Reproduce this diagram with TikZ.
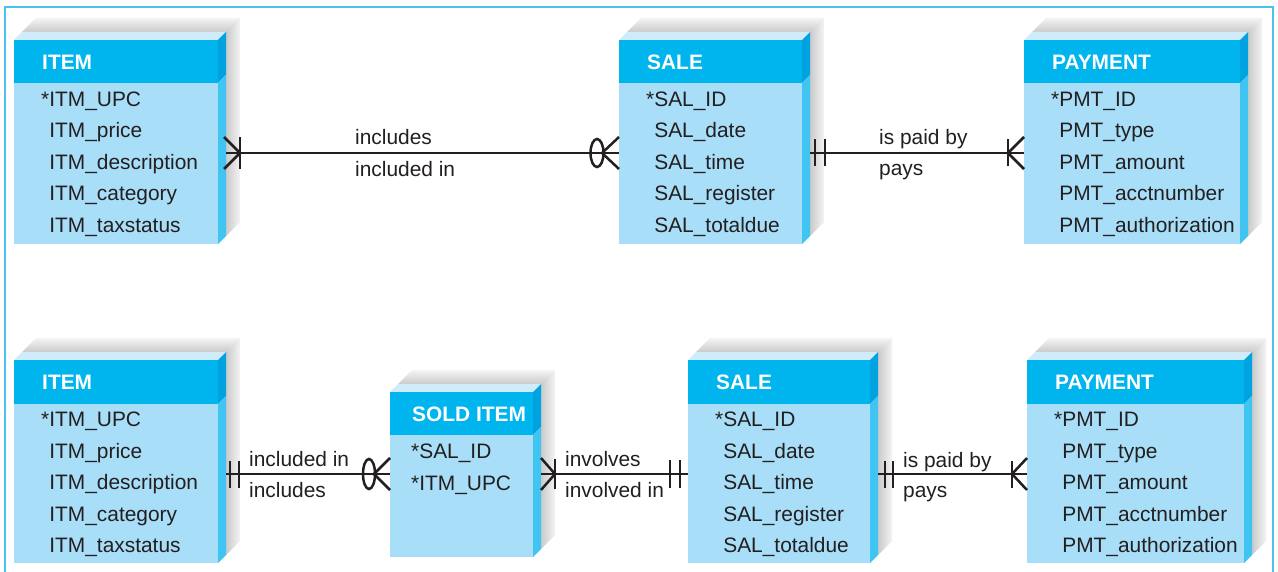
\documentclass[tikz,border=0pt]{standalone}
\usepackage{fontspec}
\setmainfont{Liberation Sans}
\definecolor{hdr}{HTML}{00B5EE}
\definecolor{hdrside}{HTML}{00A2E0}
\definecolor{bodyc}{HTML}{A8DEF8}
\definecolor{bodyside}{HTML}{40C4F1}
\definecolor{topf}{HTML}{D0ECFA}
\definecolor{frm}{HTML}{4CC0EE}
\definecolor{ink}{HTML}{231F20}
\definecolor{shnear}{HTML}{CACACA}
\definecolor{shfar}{HTML}{F4F4F4}
\tikzset{
  attr/.style={anchor=base west, inner sep=0pt, text=ink, font=\fontsize{20.9}{24}\selectfont},
  title/.style={anchor=base west, inner sep=0pt, text=white, font=\fontsize{20.9}{24}\selectfont\bfseries},
  rel/.style={anchor=base west, inner sep=0pt, text=ink, font=\fontsize{20.9}{24}\selectfont},
  conn/.style={draw=ink, line width=2.6pt},
  tick/.style={draw=ink, line width=2.5pt},
}
\newcommand{\np}{\phantom{*}}
% #1 name, #2 x0, #3 x1, #4 yt, #5 yh, #6 yb, #7 text offset, #8 title, #9 attributes
\newcommand{\entity}[9]{%
  \shade[top color=shfar, bottom color=shnear]
     ({#2+8},{#4-8}) -- ({#2+22},{#4-22}) -- ({#3+22},{#4-22}) -- ({#3+8},{#4-8}) -- cycle;
  \shade[left color=shnear, right color=shfar]
     ({#3+8},{#4-8}) -- ({#3+22},{#4-22}) -- ({#3+22},{#6-22}) -- ({#3+8},{#6-8}) -- cycle;
  \fill[topf] (#2,#4) -- ({#2+8},{#4-8}) -- ({#3+8},{#4-8}) -- (#3,#4) -- cycle;
  \fill[hdrside] (#3,#4) -- ({#3+8},{#4-8}) -- ({#3+8},{#5-8}) -- (#3,#5) -- cycle;
  \fill[bodyside] (#3,#5) -- ({#3+8},{#5-8}) -- ({#3+8},{#6-8}) -- (#3,#6) -- cycle;
  \fill[hdr] (#2,#4) rectangle (#3,#5);
  \fill[bodyc] (#2,#5) rectangle (#3,#6);
  \node[title] (#1-t) at ({#2+#7},{#4+29.5}) {#8};
  \foreach \t [count=\i from 0] in {#9}
    \node[attr] (#1-a\i) at ({#2+#7-1},{#4+66.5+31.5*\i}) {\t};
}
\begin{document}
\begin{tikzpicture}[x=1pt,y=-1pt]
\useasboundingbox (0,0) rectangle (1278,572);
\fill[white] (0,0) rectangle (1278,572);
\draw[frm, line width=1.5pt] (5,572) -- (5,7) -- (1273,7) -- (1273,572);

% top row
\entity{itemA}{14}{218}{40}{83}{244}{28}{ITEM}{*ITM\_UPC,\np ITM\_price,\np ITM\_description,\np ITM\_category,\np ITM\_taxstatus}
\entity{saleA}{619}{802}{40}{83}{244}{28}{SALE}{*SAL\_ID,\np SAL\_date,\np SAL\_time,\np SAL\_register,\np SAL\_totaldue}
\entity{payA}{1024}{1240}{40}{83}{244}{28}{PAYMENT}{*PMT\_ID,\np PMT\_type,\np PMT\_amount,\np PMT\_acctnumber,\np PMT\_authorization}

% bottom row
\entity{itemB}{14}{218}{360}{404}{563}{28}{ITEM}{*ITM\_UPC,\np ITM\_price,\np ITM\_description,\np ITM\_category,\np ITM\_taxstatus}
\entity{sold}{390}{533}{392}{435}{557}{22}{SOLD ITEM}{*SAL\_ID,*ITM\_UPC}
\entity{saleB}{688}{870}{360}{404}{563}{28}{SALE}{*SAL\_ID,\np SAL\_date,\np SAL\_time,\np SAL\_register,\np SAL\_totaldue}
\entity{payB}{1027}{1244}{360}{404}{563}{28}{PAYMENT}{*PMT\_ID,\np PMT\_type,\np PMT\_amount,\np PMT\_acctnumber,\np PMT\_authorization}

% connector endpoints
\coordinate (r1a) at (226,153); \coordinate (r1b) at (619,153);
\coordinate (r2a) at (810,153); \coordinate (r2b) at (1024,153);
\coordinate (r3a) at (226,474); \coordinate (r3b) at (390,474);
\coordinate (r4a) at (541,474); \coordinate (r4b) at (688,474);
\coordinate (r5a) at (878,474); \coordinate (r5b) at (1027,474);

% ITEM -- SALE (top)
\draw[conn] (r1a) -- (r1b);
\draw[tick] ([xshift=14pt]r1a) -- ([xshift=-2pt,yshift=-16pt]r1a) ([xshift=14pt]r1a) -- ([xshift=-2pt,yshift=16pt]r1a);
\draw[tick] ([xshift=14pt,yshift=-16pt]r1a) -- ([xshift=14pt,yshift=16pt]r1a);
\draw[tick] ([xshift=-22pt]r1b) ellipse [x radius=6.5pt, y radius=14pt];
\draw[tick] ([xshift=-17pt]r1b) -- ([yshift=-16pt]r1b) ([xshift=-17pt]r1b) -- ([yshift=16pt]r1b);
\node[rel] (l1) at (355,145) {includes};
\node[rel] (l2) at (355,177) {included in};

% SALE -- PAYMENT (top)
\draw[conn] (r2a) -- (r2b);
\draw[tick] ([xshift=5pt,yshift=-13.5pt]r2a) -- ([xshift=5pt,yshift=13.5pt]r2a);
\draw[tick] ([xshift=15pt,yshift=-13.5pt]r2a) -- ([xshift=15pt,yshift=13.5pt]r2a);
\draw[tick] ([xshift=-16pt]r2b) -- ([yshift=-16pt]r2b) ([xshift=-16pt]r2b) -- ([yshift=16pt]r2b);
\draw[tick] ([xshift=-16pt,yshift=-13.5pt]r2b) -- ([xshift=-16pt,yshift=13.5pt]r2b);
\node[rel] (l3) at (879,145) {is paid by};
\node[rel] (l4) at (879,176) {pays};

% ITEM -- SOLD ITEM (bottom)
\draw[conn] (r3a) -- (r3b);
\draw[tick] ([xshift=4pt,yshift=-13.5pt]r3a) -- ([xshift=4pt,yshift=13.5pt]r3a);
\draw[tick] ([xshift=13pt,yshift=-13.5pt]r3a) -- ([xshift=13pt,yshift=13.5pt]r3a);
\draw[tick] ([xshift=-21pt]r3b) ellipse [x radius=6pt, y radius=15pt];
\draw[tick] ([xshift=-16pt]r3b) -- ([yshift=-16pt]r3b) ([xshift=-16pt]r3b) -- ([yshift=16pt]r3b);
\node[rel] (l5) at (249,466) {included in};
\node[rel] (l6) at (249,497) {includes};

% SOLD ITEM -- SALE (bottom)
\draw[conn] (r4a) -- (r4b);
\draw[tick] ([xshift=14pt]r4a) -- ([yshift=-16pt]r4a) ([xshift=14pt]r4a) -- ([yshift=16pt]r4a);
\draw[tick] ([xshift=14pt,yshift=-15pt]r4a) -- ([xshift=14pt,yshift=15pt]r4a);
\draw[tick] ([xshift=-18pt,yshift=-14pt]r4b) -- ([xshift=-18pt,yshift=14pt]r4b);
\draw[tick] ([xshift=-8pt,yshift=-14pt]r4b) -- ([xshift=-8pt,yshift=14pt]r4b);
\node[rel] (l7) at (565,466) {involves};
\node[rel] (l8) at (565,497) {involved in};

% SALE -- PAYMENT (bottom)
\draw[conn] (r5a) -- (r5b);
\draw[tick] ([xshift=7pt,yshift=-13.5pt]r5a) -- ([xshift=7pt,yshift=13.5pt]r5a);
\draw[tick] ([xshift=15pt,yshift=-13.5pt]r5a) -- ([xshift=15pt,yshift=13.5pt]r5a);
\draw[tick] ([xshift=-15pt]r5b) -- ([yshift=-16pt]r5b) ([xshift=-15pt]r5b) -- ([yshift=16pt]r5b);
\draw[tick] ([xshift=-15pt,yshift=-13.5pt]r5b) -- ([xshift=-15pt,yshift=13.5pt]r5b);
\node[rel] (l9) at (903,467) {is paid by};
\node[rel] (l10) at (903,497) {pays};
\end{tikzpicture}
\end{document}
